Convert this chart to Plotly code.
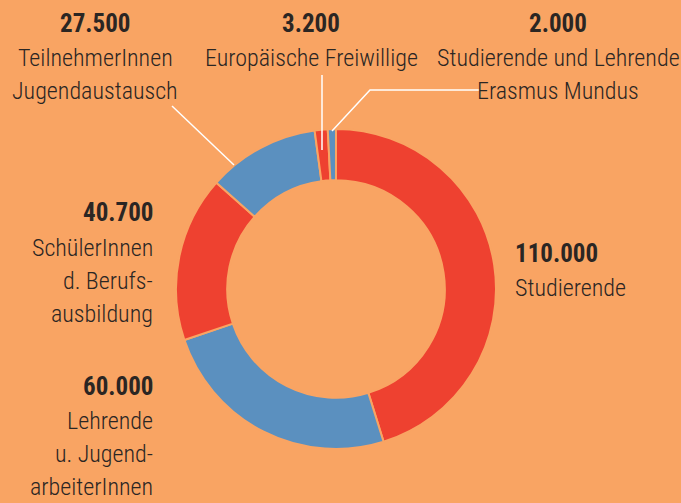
import plotly.graph_objects as go

# ---- data ----
categories = ["Studierende", "Lehrende u. Jugend-arbeiterInnen", "SchülerInnen d. Berufsausbildung",
              "TeilnehmerInnen Jugendaustausch", "Europäische Freiwillige",
              "Studierende und Lehrende Erasmus Mundus"]
values = [110000, 60000, 40700, 27500, 3200, 2000]
colors = ["#EE4130", "#5B90BF", "#EE4130", "#5B90BF", "#EE4130", "#5B90BF"]
label_lines = [
    ["Studierende"],
    ["Lehrende", "u. Jugend-", "arbeiterInnen"],
    ["SchülerInnen", "d. Berufs-", "ausbildung"],
    ["TeilnehmerInnen", "Jugendaustausch"],
    ["Europäische Freiwillige"],
    ["Studierende und Lehrende", "Erasmus Mundus"],
]

BG = "#F9A463"
TXT = "#2B2623"
FONT = "Roboto Condensed, sans-serif"
W, H = 681, 503

def fmt(v):
    return f"{v:,}".replace(",", ".")

fig = go.Figure(go.Pie(
    labels=categories, values=values, sort=False, direction="clockwise", rotation=0,
    hole=0.68, marker=dict(colors=colors, line=dict(color=BG, width=2)),
    textinfo="none", hoverinfo="label+value", showlegend=False,
    domain=dict(x=[(336 - 160) / W, (336 + 160) / W], y=[(H - 289 - 160) / H, (H - 289 + 160) / H]),
))

# label anchor: (x px, y px of number, xanchor)
anchors = [
    (513, 253, "left"),
    (155, 386, "right"),
    (155, 213, "right"),
    (95, 23, "center"),
    (311, 23, "center"),
    (558, 23, "center"),
]
LS = 33
annotations = []
for i, (x, y, xa) in enumerate(anchors):
    annotations.append(dict(x=x / W, y=1 - y / H, xref="paper", yref="paper", xanchor=xa, yanchor="middle",
                            text=f"<b>{fmt(values[i])}</b>", showarrow=False,
                            font=dict(family=FONT, size=25, color=TXT)))
    for j, line in enumerate(label_lines[i]):
        annotations.append(dict(x=x / W, y=1 - (y + 35 + LS * j) / H, xref="paper", yref="paper",
                                xanchor=xa, yanchor="middle", text=line, showarrow=False,
                                font=dict(family=FONT, size=24, color=TXT, weight=300)))

def px_line(pts):
    path = "M " + " L ".join(f"{x / W},{1 - y / H}" for x, y in pts)
    return dict(type="path", path=path, xref="paper", yref="paper",
                line=dict(color="white", width=1.5))

shapes = [
    px_line([(172, 106), (234, 165)]),
    px_line([(322, 75), (322, 150)]),
    px_line([(480, 90), (370, 90), (332, 131)]),
]

fig.update_layout(
    width=W, height=H, margin=dict(l=0, r=0, t=0, b=0),
    paper_bgcolor=BG, plot_bgcolor=BG,
    annotations=annotations, shapes=shapes,
)
fig.write_html("out.html", config=dict(displayModeBar=False),
               post_script="document.body.style.margin='0';")
